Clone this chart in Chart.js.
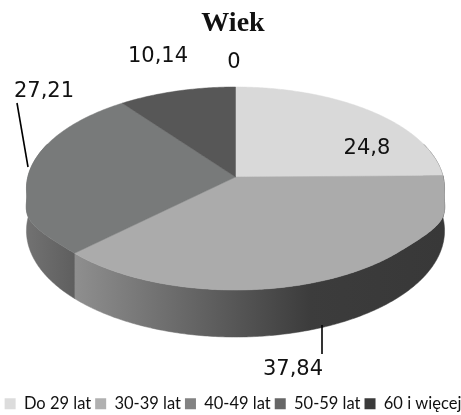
<!DOCTYPE html>
<html><head><meta charset="utf-8">
<style>html,body{margin:0;padding:0;background:#fff}canvas{display:block}</style>
<script src="https://cdn.jsdelivr.net/npm/chart.js@4"></script>
</head><body><canvas id="c" width="461" height="415"></canvas>
<script>
const categories = ['Do 29 lat','30-39 lat','40-49 lat','50-59 lat','60 i więcej'];
const values = [24.8, 37.84, 27.21, 10.14, 0];
const topColors = ['#d9d9d9','#ababab','#787a7a','#575757','#3a3a3a'];
const legendColors = ['#dcdcdc','#b0b0b0','#828282','#666666','#3a3a3a'];
const labelCentres = [[367,149],[293,370],[44,92],[158,57],[234,63]];
const leaderLines = [[[17,103],[28,167]],[[322,325],[322,354]]];

// Projection of the flat pie onto the tilted disc
const P = {cx:235.5, cy:177, R:207.7, S:100.2, k:0.1133, depth:41.7, bulge:0.035};
function project(t, drop){
  const u=Math.cos(t), v=Math.sin(t), w=1-P.k*v;
  let m=1;
  if(!drop && v>0.15 && v<0.7){const b=Math.sin(Math.PI*(v-0.15)/0.55); m=1+P.bulge*b*b;}
  return [P.cx+P.R*u*m/w, P.cy+P.S*v/w+(drop?P.depth/w:0)];
}
function wallFill(ctx,i){
  const g=ctx.createLinearGradient(26,0,444,0);
  const stops = i===2
    ? [[0,'#727272'],[0.12,'#5e5e5e'],[1,'#5e5e5e']]
    : [[0,'#8e8e8e'],[0.12,'#8e8e8e'],[0.68,'#3c3c3c'],[1,'#383838']];
  stops.forEach(s=>g.addColorStop(s[0],s[1]));
  return g;
}
const tiltedPie = {
  id:'tiltedPie',
  beforeDatasetDraw(chart,args){
    const ctx=chart.ctx, arcs=chart.getDatasetMeta(args.index).data;
    // walls
    arcs.forEach((a,i)=>{
      const s=Math.max(a.startAngle,-0.35), e=Math.min(a.endAngle,Math.PI+0.35);
      if(e<=s) return;
      const n=Math.ceil((e-s)*90);
      ctx.beginPath();
      for(let j=0;j<=n;j++){const p=project(s+(e-s)*j/n,false); j?ctx.lineTo(p[0],p[1]):ctx.moveTo(p[0],p[1]);}
      for(let j=n;j>=0;j--){const p=project(s+(e-s)*j/n,true); ctx.lineTo(p[0],p[1]);}
      ctx.closePath();
      const f=wallFill(ctx,i);
      ctx.fillStyle=f; ctx.strokeStyle=f; ctx.lineWidth=0.5; ctx.fill(); ctx.stroke();
    });
    // top face
    arcs.forEach((a,i)=>{
      const s=a.startAngle,e=a.endAngle;
      if(e-s<=0) return;
      const n=Math.ceil((e-s)*90);
      ctx.beginPath(); ctx.moveTo(P.cx,P.cy);
      for(let j=0;j<=n;j++){const p=project(s+(e-s)*j/n,false); ctx.lineTo(p[0],p[1]);}
      ctx.closePath();
      ctx.fillStyle=topColors[i]; ctx.strokeStyle=topColors[i]; ctx.lineWidth=0.5; ctx.fill(); ctx.stroke();
    });
    return false;
  },
  afterDatasetsDraw(chart){
    const ctx=chart.ctx;
    ctx.save();
    ctx.strokeStyle='#000'; ctx.lineWidth=1.6;
    leaderLines.forEach(l=>{ctx.beginPath();ctx.moveTo(l[0][0],l[0][1]);ctx.lineTo(l[1][0],l[1][1]);ctx.stroke();});
    ctx.fillStyle='#111'; ctx.font='21px "DejaVu Sans"'; ctx.textAlign='center'; ctx.textBaseline='middle';
    values.forEach((v,i)=>ctx.fillText(String(v).replace('.',','),labelCentres[i][0],labelCentres[i][1]));
    ctx.restore();
  }
};
new Chart(document.getElementById('c'),{
  type:'pie',
  data:{labels:categories,datasets:[{data:values,backgroundColor:legendColors,borderWidth:0}]},
  plugins:[tiltedPie],
  options:{
    responsive:false,animation:false,devicePixelRatio:1,
    layout:{padding:{left:0,right:-5,top:7,bottom:-7}},
    plugins:{
      tooltip:{enabled:false},
      title:{display:true,text:'Wiek',color:'#111',font:{family:'"Liberation Serif"',size:28,weight:'bold'},padding:{top:0,bottom:4}},
      legend:{position:'bottom',labels:{boxWidth:11,boxHeight:11,padding:4,color:'#111',font:{family:'Lato',size:16.5}}}
    }
  }
});
</script></body></html>
